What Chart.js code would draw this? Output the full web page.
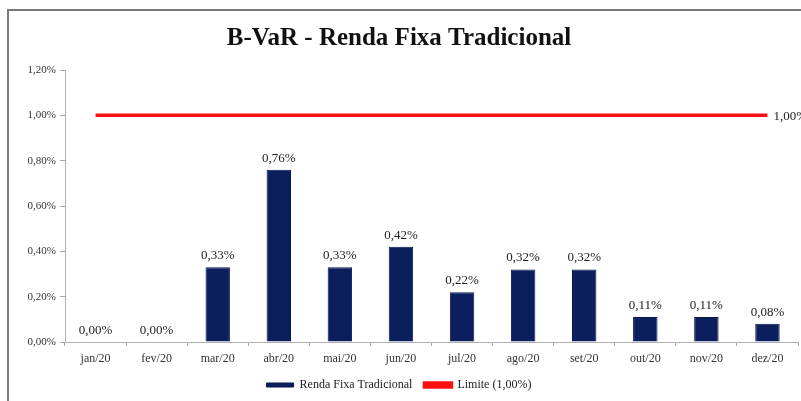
<!DOCTYPE html>
<html>
<head>
<meta charset="utf-8">
<script src="https://cdn.jsdelivr.net/npm/chart.js@4.4.1/dist/chart.umd.min.js"></script>
<style>
  html, body { margin: 0; padding: 0; background: #fff; overflow: hidden; }
  #frame { position: absolute; left: 7px; top: 9px; width: 900px; height: 500px;
           border-left: 2px solid #7a7a7a; border-top: 2px solid #7a7a7a; }
  #myChart { position: absolute; left: 0; top: 0; }
</style>
</head>
<body>
<div id="frame"></div>
<canvas id="myChart" width="801" height="401"></canvas>
<script>
// data
var months = ['jan/20', 'fev/20', 'mar/20', 'abr/20', 'mai/20', 'jun/20',
              'jul/20', 'ago/20', 'set/20', 'out/20', 'nov/20', 'dez/20'];
var bvar = [0.00, 0.00, 0.33, 0.76, 0.33, 0.42, 0.22, 0.32, 0.32, 0.11, 0.11, 0.08];
var limite = [1.00, 1.00, 1.00, 1.00, 1.00, 1.00, 1.00, 1.00, 1.00, 1.00, 1.00, 1.00];
var yTicks = [0, 0.2, 0.4, 0.6, 0.8, 1.0, 1.2];

var serif = "'Liberation Serif', 'Times New Roman', serif";

function pct(v) {
  return v.toFixed(2).replace('.', ',') + '%';
}

// value labels over the bars and at the end of the limit line
var labelsPlugin = {
  id: 'valueLabels',
  afterDatasetsDraw: function(chart) {
    var ctx = chart.ctx;
    ctx.save();
    ctx.font = '13px ' + serif;
    ctx.fillStyle = '#222';
    ctx.textAlign = 'center';
    ctx.textBaseline = 'bottom';
    chart.getDatasetMeta(0).data.forEach(function(bar, i) {
      ctx.fillText(pct(bvar[i]), bar.x, bar.y - 5);
    });
    var pts = chart.getDatasetMeta(1).data;
    var last = pts[pts.length - 1];
    ctx.textAlign = 'left';
    ctx.textBaseline = 'middle';
    ctx.fillText(pct(limite[limite.length - 1]), last.x + 6, last.y + 1);
    ctx.restore();
  }
};

var ctx = document.getElementById('myChart').getContext('2d');
var chart = new Chart(ctx, {
  type: 'bar',
  data: {
    labels: months,
    datasets: [
      {
        label: 'Renda Fixa Tradicional',
        data: bvar,
        backgroundColor: '#0b1f5e',
        borderColor: '#08174a',
        borderWidth: 1,
        barPercentage: 0.4,
        categoryPercentage: 1
      },
      {
        type: 'line',
        label: 'Limite (1,00%)',
        data: limite,
        borderColor: '#ff1010',
        backgroundColor: '#ff1010',
        borderWidth: 3.5,
        pointRadius: 0
      }
    ]
  },
  options: {
    responsive: false,
    animation: false,
    layout: { padding: { left: 0, right: 3, top: 0, bottom: 0 } },
    plugins: {
      title: {
        display: true,
        text: 'B-VaR - Renda Fixa Tradicional',
        color: '#111',
        font: { family: serif, size: 25, weight: 'bold' },
        padding: { top: 24, bottom: 16 }
      },
      legend: {
        position: 'bottom',
        labels: {
          color: '#222',
          font: { family: serif, size: 12 },
          boxWidth: 27,
          boxHeight: 4,
          padding: 12
        }
      },
      tooltip: { enabled: false }
    },
    scales: {
      x: {
        grid: { display: true, drawOnChartArea: false, offset: true, color: '#aaa', tickLength: 4 },
        border: { color: '#b0b0b0' },
        ticks: { color: '#333', font: { family: serif, size: 12 }, padding: 6 },
        afterFit: function(scale) { scale.height = 25; }
      },
      y: {
        min: 0,
        max: 1.2,
        afterBuildTicks: function(scale) {
          scale.ticks = yTicks.map(function(v) { return { value: v }; });
        },
        grid: { display: true, drawOnChartArea: false, color: '#aaa', tickLength: 5 },
        border: { color: '#b0b0b0' },
        ticks: {
          color: '#333',
          font: { family: serif, size: 11 },
          padding: 4,
          callback: function(v) { return pct(v); }
        },
        afterFit: function(scale) { scale.width = 65; }
      }
    }
  },
  plugins: [labelsPlugin]
});
</script>
</body>
</html>
